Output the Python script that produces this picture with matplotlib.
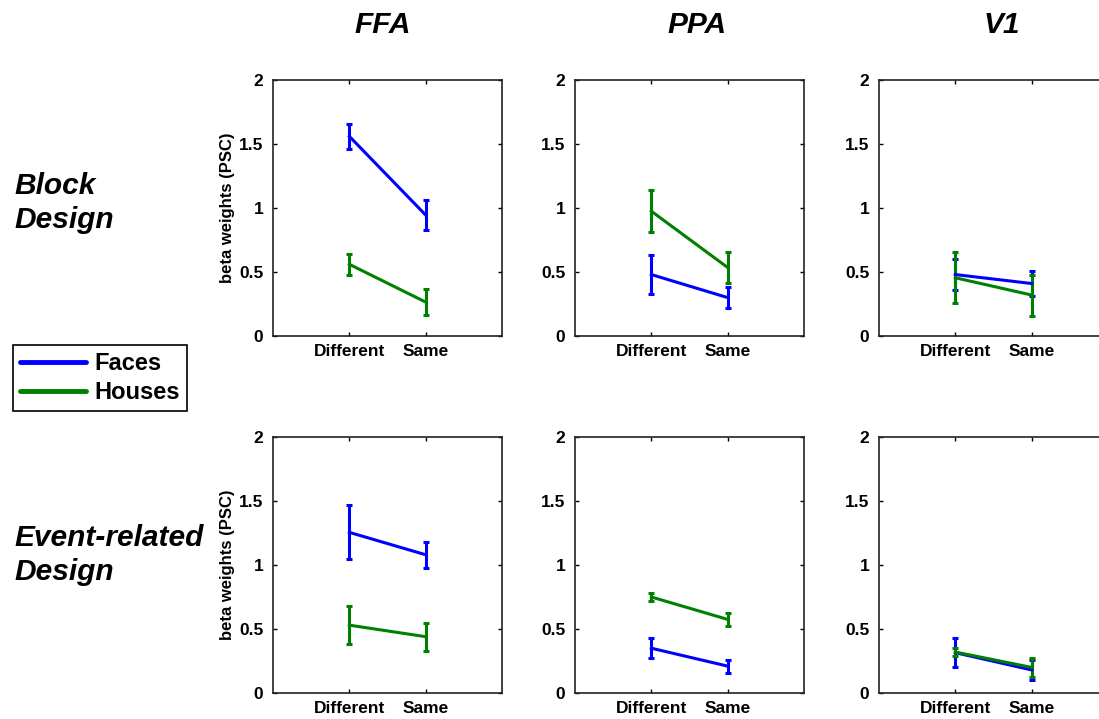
import matplotlib
matplotlib.use("Agg")
from matplotlib import pyplot as plt
from matplotlib.lines import Line2D

plt.rcParams['font.family'] = ['Liberation Sans', 'DejaVu Sans']
plt.rcParams['font.weight'] = 'bold'

regions = ['FFA', 'PPA', 'V1']
conditions = ['Different', 'Same']
row_labels = ['Block\nDesign', 'Event-related\nDesign']

# values per region (FFA, PPA, V1), each [Different, Same]
block_faces = [[1.56, 0.945], [0.48, 0.30], [0.48, 0.41]]
block_faces_err = [[0.10, 0.12], [0.15, 0.08], [0.12, 0.10]]
block_houses = [[0.56, 0.265], [0.975, 0.535], [0.455, 0.32]]
block_houses_err = [[0.08, 0.10], [0.165, 0.12], [0.20, 0.16]]

event_faces = [[1.255, 1.08], [0.35, 0.21], [0.315, 0.18]]
event_faces_err = [[0.21, 0.10], [0.08, 0.05], [0.115, 0.075]]
event_houses = [[0.53, 0.44], [0.75, 0.575], [0.32, 0.20]]
event_houses_err = [[0.15, 0.11], [0.03, 0.05], [0.03, 0.075]]

face_col = '#0000ff'
house_col = '#008000'

W, H = 1099, 719
fig = plt.figure(figsize=(W / 100, H / 100), dpi=100)

col_left = [273, 575, 879]
row_bottom = [336, 693]
ax_w, ax_h = 229, 256

rows = [(block_faces, block_faces_err, block_houses, block_houses_err),
        (event_faces, event_faces_err, event_houses, event_houses_err)]

for r, (fm, fe, hm, he) in enumerate(rows):
    for c in range(3):
        ax = fig.add_axes([col_left[c] / W, (H - row_bottom[r]) / H, ax_w / W, ax_h / H])
        x = [1, 2]
        ax.errorbar(x, fm[c], yerr=fe[c], color=face_col, lw=2.2,
                    capsize=2.5, capthick=2.2, elinewidth=2.2)
        ax.errorbar(x, hm[c], yerr=he[c], color=house_col, lw=2.2,
                    capsize=2.5, capthick=2.2, elinewidth=2.2)
        ax.set_xlim(0, 3)
        ax.set_ylim(0, 2)
        ax.set_xticks(x)
        ax.set_xticklabels(conditions)
        ax.set_yticks([0, 0.5, 1, 1.5, 2])
        ax.set_yticklabels(['0', '0.5', '1', '1.5', '2'])
        ax.tick_params(direction='in', length=3, width=1, top=True, right=True,
                       labelsize=12.5)
        ax.tick_params(axis='x', pad=6)
        ax.tick_params(axis='y', pad=7)
        for s in ax.spines.values():
            s.set_linewidth(1.2)
            s.set_color('#222222')
        if c == 0:
            ax.set_ylabel('beta weights (PSC)', fontsize=12, fontweight='bold',
                          labelpad=3)

title_x = [383, 697, 1002]
for name, tx in zip(regions, title_x):
    fig.text(tx / W, 1 - 25 / H, name, fontsize=21.5, fontstyle='italic',
             fontweight='bold', ha='center', va='center')

fig.text(14 / W, 1 - 203 / H, row_labels[0], fontsize=21.5, fontstyle='italic',
         fontweight='bold', ha='left', va='center', linespacing=1.25)
fig.text(14 / W, 1 - 555 / H, row_labels[1], fontsize=21.5, fontstyle='italic',
         fontweight='bold', ha='left', va='center', linespacing=1.25)

handles = [Line2D([], [], color=face_col, lw=3.5, solid_capstyle='round'),
           Line2D([], [], color=house_col, lw=3.5, solid_capstyle='round')]
leg = fig.legend(handles, ['Faces', 'Houses'], loc='upper left',
                 bbox_to_anchor=(13 / W, 1 - 345 / H), borderaxespad=0,
                 fontsize=17, handlelength=2.8, handletextpad=0.35,
                 labelspacing=0.25, borderpad=0.3, fancybox=False, framealpha=1)
leg.get_frame().set_edgecolor('black')
leg.get_frame().set_linewidth(1.2)

fig.savefig('out.png', dpi=100)
